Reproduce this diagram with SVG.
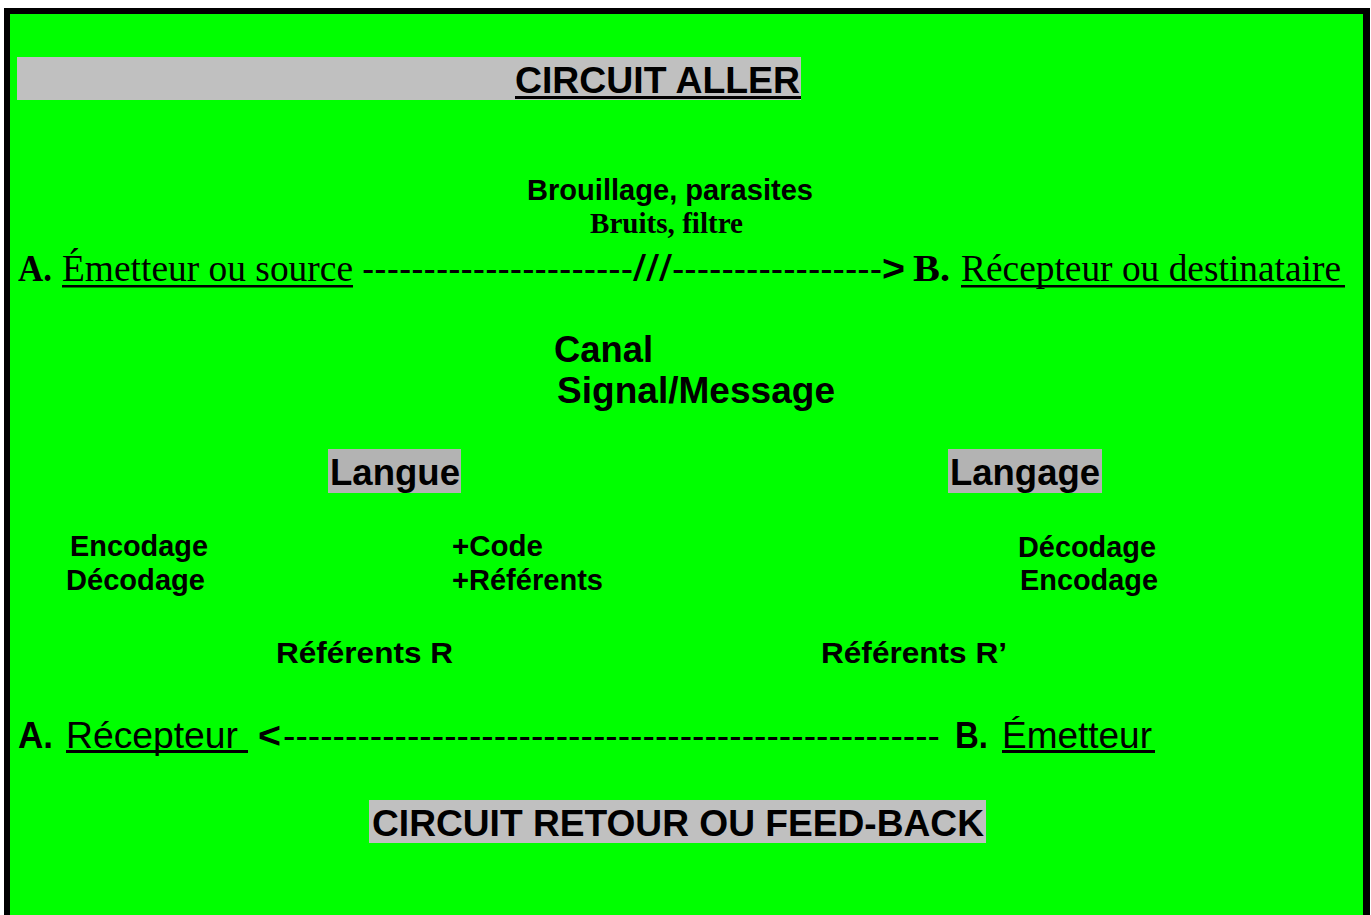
<svg xmlns="http://www.w3.org/2000/svg" width="1371" height="915" viewBox="0 0 1371 915">
<style>
.s{font-family:"Liberation Sans",Arial,sans-serif;fill:#000}
.r{font-family:"Liberation Serif","Times New Roman",serif;fill:#000}
.b{font-weight:bold}
.L{font-size:37px}
.M{font-size:29px}
.band{fill:#c0c0c0}
.band2{fill:#b3b3b3}
.ul{fill:#000}
</style>
<rect x="0" y="0" width="1371" height="915" fill="#ffffff"/>
<rect x="4" y="8" width="1366" height="907" fill="#000"/>
<rect x="10" y="14" width="1353" height="901" fill="#00ff00"/>

<g id="title-aller">
<rect class="band" x="17" y="57" width="784" height="43"/>
<text class="s b L" x="515" y="93" textLength="285" lengthAdjust="spacingAndGlyphs">CIRCUIT ALLER</text>
<rect class="ul" x="515" y="96" width="286" height="3"/>
</g>

<g id="bruits">
<text class="s b M" x="527" y="200" textLength="286" lengthAdjust="spacingAndGlyphs">Brouillage, parasites</text>
<text class="r b M" x="590" y="233" textLength="153" lengthAdjust="spacingAndGlyphs">Bruits, filtre</text>
</g>

<g id="emetteur-a">
<text class="r b L" x="18" y="281" textLength="34" lengthAdjust="spacingAndGlyphs">A.</text>
<text class="r L" x="62" y="281" textLength="291" lengthAdjust="spacingAndGlyphs">Émetteur ou source</text>
<rect class="ul" x="62" y="285" width="291" height="2.5"/>
</g>

<g id="recepteur-b">
<text class="r b L" x="913" y="281" textLength="37" lengthAdjust="spacingAndGlyphs">B.</text>
<text class="r L" x="961" y="281" textLength="380" lengthAdjust="spacingAndGlyphs">Récepteur ou destinataire</text>
<rect class="ul" x="961" y="285" width="384" height="2.5"/>
</g>

<g id="canal">
<text class="s b L" x="554" y="362" textLength="99" lengthAdjust="spacingAndGlyphs">Canal</text>
<text class="s b L" x="557" y="403" textLength="278" lengthAdjust="spacingAndGlyphs">Signal/Message</text>
</g>

<g id="langue">
<rect class="band2" x="328" y="449" width="133" height="44"/>
<text class="s b L" x="330" y="485" textLength="130" lengthAdjust="spacingAndGlyphs">Langue</text>
</g>

<g id="langage">
<rect class="band2" x="948" y="449" width="154" height="44"/>
<text class="s b L" x="950" y="485" textLength="150" lengthAdjust="spacingAndGlyphs">Langage</text>
</g>

<g id="codage-a">
<text class="s b M" x="70" y="556" textLength="138" lengthAdjust="spacingAndGlyphs">Encodage</text>
<text class="s b M" x="66" y="590" textLength="139" lengthAdjust="spacingAndGlyphs">Décodage</text>
</g>

<g id="code">
<text class="s b M" x="452" y="556" textLength="91" lengthAdjust="spacingAndGlyphs">+Code</text>
<text class="s b M" x="452" y="590" textLength="151" lengthAdjust="spacingAndGlyphs">+Référents</text>
</g>

<g id="codage-b">
<text class="s b M" x="1018" y="557" textLength="138" lengthAdjust="spacingAndGlyphs">Décodage</text>
<text class="s b M" x="1020" y="590" textLength="138" lengthAdjust="spacingAndGlyphs">Encodage</text>
</g>

<g id="referents-r">
<text class="s b M" x="276" y="663" textLength="177" lengthAdjust="spacingAndGlyphs">Référents R</text>
</g>

<g id="referents-r2">
<text class="s b M" x="821" y="663" textLength="186" lengthAdjust="spacingAndGlyphs">Référents R’</text>
</g>

<g id="recepteur-a">
<text class="s b L" x="18" y="748" textLength="35" lengthAdjust="spacingAndGlyphs">A.</text>
<text class="s L" x="66" y="748" textLength="172" lengthAdjust="spacingAndGlyphs">Récepteur</text>
<rect class="ul" x="66" y="750" width="182" height="3"/>
</g>

<g id="emetteur-b">
<text class="s b L" x="955" y="748" textLength="33" lengthAdjust="spacingAndGlyphs">B.</text>
<text class="s L" x="1002" y="748" textLength="150" lengthAdjust="spacingAndGlyphs">Émetteur</text>
<rect class="ul" x="1002" y="750" width="153" height="3"/>
</g>

<g id="connectors">
<text class="s L" x="362" y="281" textLength="271" lengthAdjust="spacingAndGlyphs">----------------------</text>
<text class="s L" x="633" y="281" textLength="39" lengthAdjust="spacingAndGlyphs">///</text>
<text class="s L" x="672" y="281" textLength="210" lengthAdjust="spacingAndGlyphs">-----------------</text>
<text class="s b L" x="882" y="281" textLength="23" lengthAdjust="spacingAndGlyphs">&gt;</text>
<text class="s b L" x="258" y="748" textLength="23" lengthAdjust="spacingAndGlyphs">&lt;</text>
<text class="s L" x="283" y="748" textLength="657" lengthAdjust="spacingAndGlyphs">-----------------------------------------------------</text>
</g>

<g id="title-retour">
<rect class="band" x="369" y="800" width="617" height="43"/>
<text class="s b L" x="372" y="836" textLength="612" lengthAdjust="spacingAndGlyphs">CIRCUIT RETOUR OU FEED-BACK</text>
</g>
</svg>
